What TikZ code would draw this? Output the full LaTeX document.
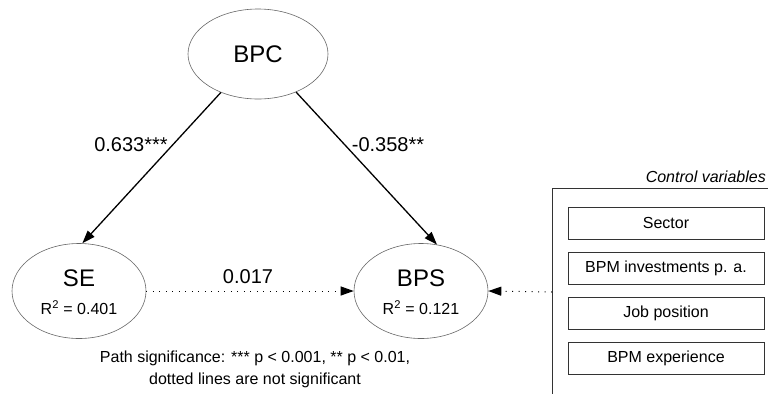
\documentclass[tikz,border=0pt]{standalone}
\usepackage{fontspec}
\setmainfont{Liberation Sans}
\usetikzlibrary{shapes.geometric,arrows.meta}
\tikzset{
  latent/.style={ellipse, draw=black!60, line width=0.6pt, inner sep=0pt},
  bigtxt/.style={font=\fontsize{24}{28}\selectfont, inner sep=0pt},
  rtxt/.style={font=\fontsize{16}{19}\selectfont, inner sep=0pt},
  pathlbl/.style={font=\fontsize{20}{24}\selectfont, inner sep=0pt},
  sigarrow/.style={line width=1.3pt, -{Triangle[length=13pt,width=9pt]}},
  nsarrow/.style={line width=1pt, dash pattern=on 1pt off 5.5pt, -{Triangle[length=13pt,width=9pt]}},
  ctrlbox/.style={draw=black!80, line width=0.8pt, minimum width=196pt, minimum height=32pt, inner sep=0pt, font=\fontsize{16}{19}\selectfont},
}
\begin{document}
\begin{tikzpicture}[x=1pt,y=-1pt]
\useasboundingbox (0,0) rectangle (768,394);
% latent variables
\node[latent, minimum width=140pt, minimum height=90pt] (bpc) at (258,54) {};
\node[bigtxt] (bpct) at (258,54) {BPC};
\node[latent, minimum width=134pt, minimum height=95pt] (se) at (79,291) {};
\node[bigtxt] (set) at (79,278) {SE};
\node[rtxt] (ser) at (79,308) {R\textsuperscript{2} = 0.401};
\node[latent, minimum width=134pt, minimum height=95pt] (bps) at (421,291) {};
\node[bigtxt] (bpst) at (421,278) {BPS};
\node[rtxt] (bpsr) at (421,308) {R\textsuperscript{2} = 0.121};
% paths
\draw[sigarrow] (bpc.226) -- (se.86);
\draw[sigarrow] (bpc.315) -- (bps.71);
\draw[nsarrow] (se.east) -- (bps.west);
\node[pathlbl] (l1) at (131,145) {0.633***};
\node[pathlbl] (l2) at (388,145) {-0.358**};
\node[pathlbl] (l3) at (248,277) {0.017};
% control variables panel
\draw[draw=black!80, line width=0.8pt] (768,188) -- (552,188) -- (552,394);
\coordinate (ctl) at (552,292);
\node[rtxt, anchor=east, font=\fontsize{16}{19}\selectfont\itshape] (ctltitle) at (766,177) {Control variables};
\node[ctrlbox] (c1) at (666,223) {Sector};
\node[ctrlbox] (c2) at (666,268) {BPM investments p. a.};
\node[ctrlbox] (c3) at (666,313) {Job position};
\node[ctrlbox] (c4) at (666,358) {BPM experience};
\draw[nsarrow] (ctl) -- (bps.east);
% caption
\node[rtxt, align=center, font=\fontsize{16}{22}\selectfont] (cap) at (255,369) {Path significance: *** p {\char`\<} 0.001, ** p {\char`\<} 0.01,\\dotted lines are not significant};
\end{tikzpicture}
\end{document}
